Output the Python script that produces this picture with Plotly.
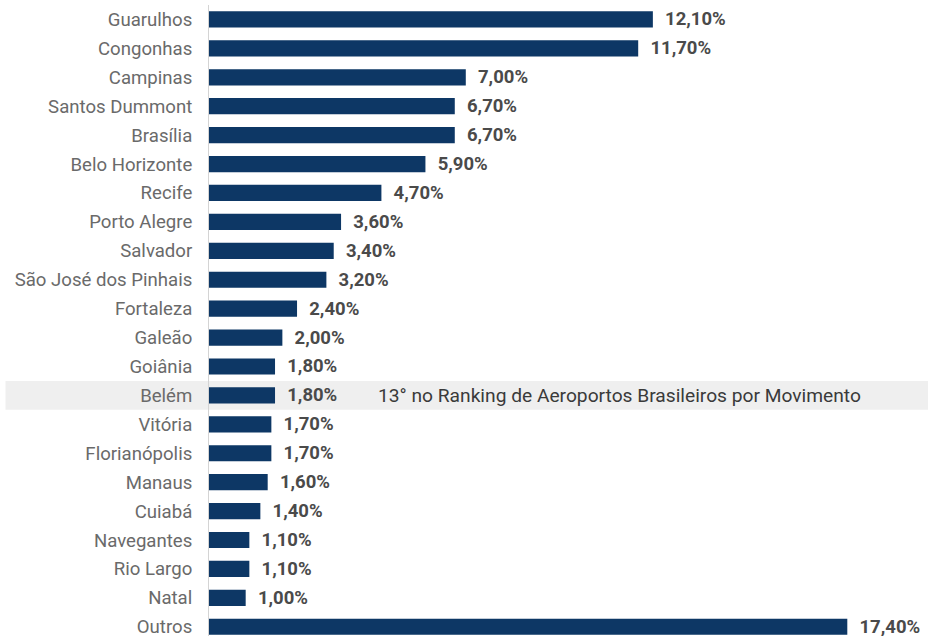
import plotly.graph_objects as go

airports = ["Guarulhos", "Congonhas", "Campinas", "Santos Dummont", "Brasília", "Belo Horizonte",
            "Recife", "Porto Alegre", "Salvador", "São José dos Pinhais", "Fortaleza", "Galeão",
            "Goiânia", "Belém", "Vitória", "Florianópolis", "Manaus", "Cuiabá", "Navegantes",
            "Rio Largo", "Natal", "Outros"]
shares = [12.1, 11.7, 7.0, 6.7, 6.7, 5.9, 4.7, 3.6, 3.4, 3.2, 2.4, 2.0, 1.8, 1.8, 1.7, 1.7,
          1.6, 1.4, 1.1, 1.1, 1.0, 17.4]
highlight = "Belém"
highlight_note = "13° no Ranking de Aeroportos Brasileiros por Movimento"

labels = [("%.2f%%" % v).replace(".", ",") for v in shares]

fig = go.Figure(go.Bar(
    y=airports, x=shares, orientation="h",
    marker=dict(color="#0d3765", line=dict(width=0)),
    width=0.56,
    text=labels, textposition="outside", cliponaxis=False, constraintext="none",
    textfont=dict(family="Roboto", size=18.5, color="#4a4a4a", weight="bold"),
    texttemplate="  %{text}",
    hoverinfo="skip",
))

hi = airports.index(highlight)
fig.add_shape(type="rect", xref="paper", yref="y", x0=-0.283, x1=1.0,
              y0=hi - 0.5, y1=hi + 0.5, fillcolor="#efefef", line=dict(width=0), layer="below")
fig.add_annotation(x=4.55, y=highlight, xref="x", yref="y", text=highlight_note, showarrow=False,
                   xanchor="left", font=dict(family="Roboto", size=19.2, color="#3a3a3a"))

fig.update_layout(
    width=928, height=636,
    margin=dict(l=209, r=0, t=5, b=0, autoexpand=False),
    plot_bgcolor="white", paper_bgcolor="white",
    showlegend=False,
    font=dict(family="Roboto", size=18, color="#6a6a6a"),
    xaxis=dict(range=[0, 19.6], visible=False, showgrid=False, zeroline=False),
    yaxis=dict(categoryorder="array", categoryarray=airports, range=[21.32, -0.5],
               showline=True, linecolor="#d4d4d4", linewidth=1, showgrid=False, zeroline=False,
               ticks="", ticklabelstandoff=12,
               tickfont=dict(family="Roboto", size=18.6, color="#6a6a6a")),
)

fig.write_html("out.html", config={"displayModeBar": False},
               post_script="document.body.style.margin='0';document.body.style.overflow='hidden';")
